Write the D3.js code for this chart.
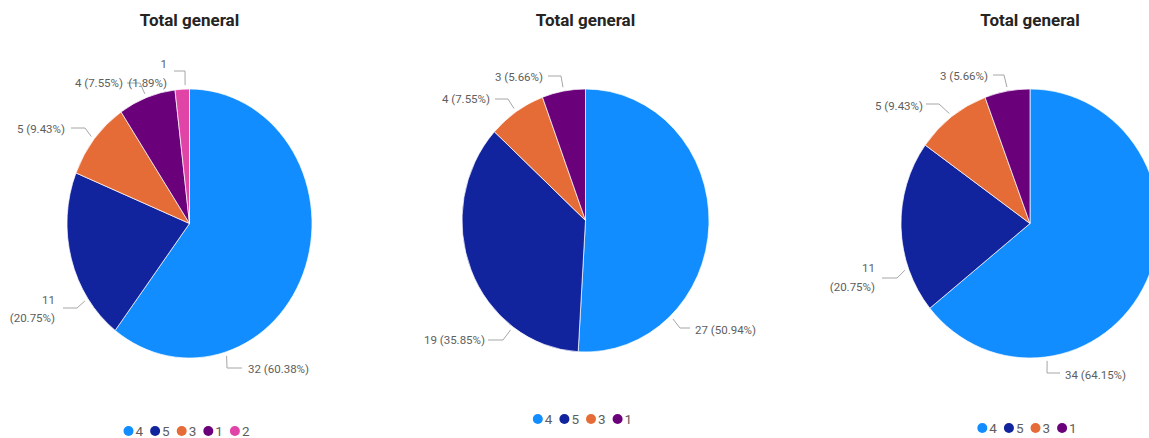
<!DOCTYPE html>
<html>
<head>
<meta charset="utf-8">
<script src="https://cdn.jsdelivr.net/npm/d3@7"></script>
<style>
  html, body { margin: 0; padding: 0; background: #ffffff; }
  svg { display: block; }
</style>
</head>
<body>
<svg id="chart" width="1149" height="438"></svg>
<script>
// ---------------- DATA ----------------
const chartTitles = ["Total general", "Total general", "Total general"];
const categories1 = ["4", "5", "3", "1", "2"];
const values1 = [32, 11, 5, 4, 1];
const categories2 = ["4", "5", "3", "1"];
const values2 = [27, 19, 4, 3];
const categories3 = ["4", "5", "3", "1"];
const values3 = [34, 11, 5, 3];
const colorDomain = ["4", "5", "3", "1", "2"];
const colorRange = ["#118DFF", "#12239E", "#E66C37", "#6B007B", "#E044A7"];

// ---------------- LAYOUT ----------------
const panels = [
  { cx: 189.5, cy: 223.5, rx: 122.5, ry: 134.5, legendY: 431 },
  { cx: 585.5, cy: 220.5, rx: 123.5, ry: 131.5, legendY: 419 },
  { cx: 1030,  cy: 223.5, rx: 129,   ry: 134.5, legendY: 428 }
];
const labelLayouts = [
  [
    { a: 162.9, elbow: [37.5, 144.5], end: [52.5, 144.5], text: [58.5, 145.5], anchor: "start" },
    { a: 236.0, elbow: [-112.5, 84.5], end: [-126.5, 84.5], text: [-134.5, 76.5], anchor: "end", split: true, gap: 18 },
    { a: 308.9, elbow: [-104.5, -95.5], end: [-118.5, -95.5], text: [-124.5, -94.5], anchor: "end" },
    { a: 339.3, elbow: [-49.5, -140.5], end: [-62.5, -140.5], text: [-66.5, -140.5], anchor: "end" },
    { a: 358.0, elbow: [-4.5, -152.5], end: [-15.5, -152.5], text: [-22.5, -159.5], anchor: "end", split: true, gap: 19 }
  ],
  [
    { a: 136.6, elbow: [94.5, 107.5], end: [104.5, 107.5], text: [109.5, 109.5], anchor: "start" },
    { a: 216.1, elbow: [-82.5, 119.5], end: [-97.5, 119.5], text: [-100.5, 119.5], anchor: "end" },
    { a: 325.8, elbow: [-77.5, -121.5], end: [-90.5, -121.5], text: [-95.5, -121.5], anchor: "end" },
    { a: 349.8, elbow: [-24.5, -144.5], end: [-37.5, -144.5], text: [-42.5, -143.5], anchor: "end" }
  ],
  [
    { a: 172.6, elbow: [17, 149.5], end: [30, 149.5], text: [35, 151.5], anchor: "start" },
    { a: 250.3, elbow: [-133, 54.5], end: [-148, 54.5], text: [-155, 44.5], anchor: "end", split: true, gap: 19 },
    { a: 322.6, elbow: [-91, -119.5], end: [-104, -119.5], text: [-107, -117.5], anchor: "end" },
    { a: 350.0, elbow: [-26, -148.5], end: [-37, -148.5], text: [-42, -147.5], anchor: "end" }
  ]
];

const datasets = [
  { cats: categories1, vals: values1 },
  { cats: categories2, vals: values2 },
  { cats: categories3, vals: values3 }
];

const color = d3.scaleOrdinal().domain(colorDomain).range(colorRange);
const svg = d3.select("#chart");
const labelFont = "'Segoe UI', Roboto, 'Open Sans', sans-serif";

datasets.forEach((ds, i) => {
  const p = panels[i];
  const total = d3.sum(ds.vals);
  const data = ds.cats.map((c, j) => ({ cat: c, val: ds.vals[j] }));
  const pie = d3.pie().sort(null).value(d => d.val).startAngle(0).endAngle(2 * Math.PI);
  const arcs = pie(data);
  const arc = d3.arc().innerRadius(0).outerRadius(p.ry);

  const panel = svg.append("g");

  panel.append("text")
    .attr("x", p.cx).attr("y", 26)
    .attr("text-anchor", "middle")
    .attr("font-family", "Roboto, 'DejaVu Sans', sans-serif")
    .attr("font-weight", 700)
    .attr("font-size", 17)
    .attr("fill", "#252423")
    .text(chartTitles[i]);

  const pg = panel.append("g")
    .attr("transform", `translate(${p.cx},${p.cy}) scale(${p.rx / p.ry},1)`);
  pg.selectAll("path").data(arcs).enter().append("path")
    .attr("d", arc)
    .attr("fill", d => color(d.data.cat))
    .attr("stroke", "#ffffff")
    .attr("stroke-width", 0.7)
    .attr("vector-effect", "non-scaling-stroke");

  const lg = panel.append("g").attr("transform", `translate(${p.cx},${p.cy})`);
  arcs.forEach((d, j) => {
    const L = labelLayouts[i][j];
    const th = L.a * Math.PI / 180;
    const k = 1.03;
    const sx = p.rx * k * Math.sin(th);
    const sy = -p.ry * k * Math.cos(th);
    lg.append("path")
      .attr("d", d3.line()([[sx, sy], L.elbow, L.end]))
      .attr("fill", "none")
      .attr("stroke", "#a6a6a6")
      .attr("stroke-width", 1);
    const pct = (d.data.val / total * 100).toFixed(2) + "%";
    const lines = L.split ? [String(d.data.val), "(" + pct + ")"] : [d.data.val + " (" + pct + ")"];
    lines.forEach((t, m) => {
      lg.append("text")
        .attr("x", L.text[0])
        .attr("y", L.text[1] + m * (L.gap || 0))
        .attr("dy", "0.35em")
        .attr("text-anchor", L.anchor)
        .attr("font-family", labelFont)
        .attr("font-size", 11.5)
        .attr("fill", "#605E5C")
        .text(t);
    });
  });

  const leg = panel.append("g");
  let x = 0;
  ds.cats.forEach(c => {
    const g = leg.append("g");
    g.append("circle").attr("cx", x + 5).attr("cy", 0).attr("r", 5).attr("fill", color(c));
    const t = g.append("text")
      .attr("x", x + 12).attr("y", 0).attr("dy", "0.36em")
      .attr("font-family", labelFont)
      .attr("font-size", 13.5)
      .attr("fill", "#605E5C")
      .text(c);
    const w = t.node().getComputedTextLength();
    x += 12 + w + 7;
  });
  const legW = x - 7;
  leg.attr("transform", `translate(${p.cx - 3 - legW / 2},${p.legendY})`);
});
</script>
</body>
</html>
